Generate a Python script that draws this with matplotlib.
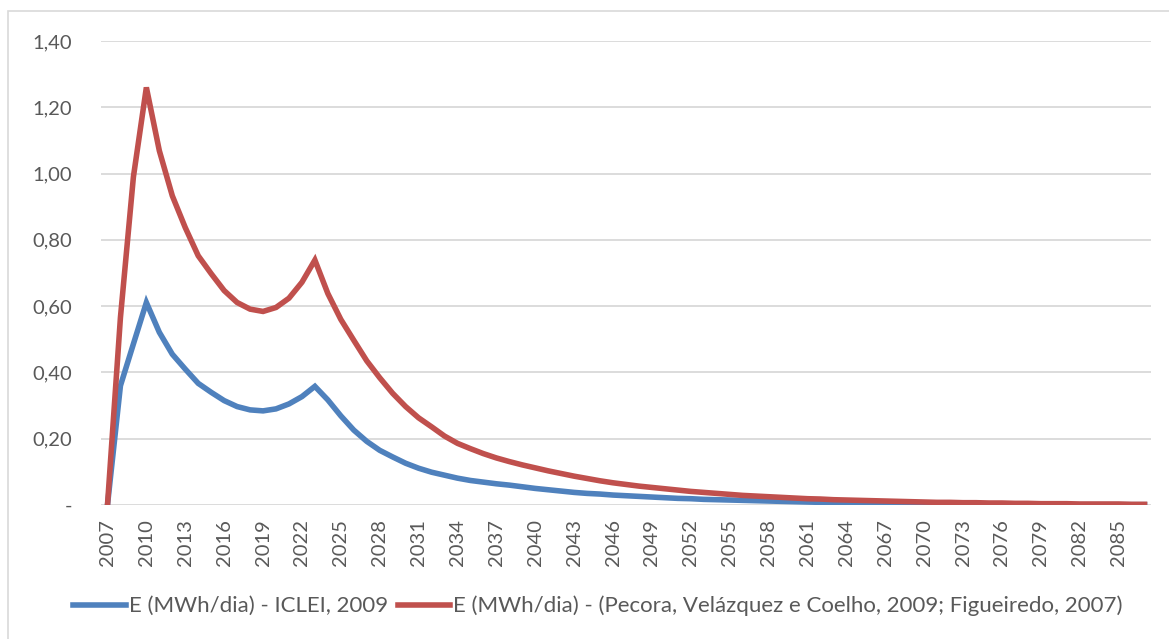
import matplotlib
matplotlib.use("Agg")
import matplotlib.pyplot as plt
from matplotlib.ticker import FuncFormatter
from matplotlib.patches import Rectangle

# anos 2007..2087
anos = list(range(2007, 2088))

# E (MWh/dia) - ICLEI, 2009
e_iclei = [
    0.000, 0.360, 0.486, 0.611, 0.521, 0.455, 0.410, 0.367, 0.340, 0.315,
    0.297, 0.287, 0.284, 0.290, 0.305, 0.327, 0.358, 0.317, 0.269, 0.226,
    0.192, 0.165, 0.145, 0.126, 0.111, 0.099, 0.090, 0.081, 0.074, 0.069,
    0.064, 0.060, 0.055, 0.050, 0.046, 0.042, 0.038, 0.035, 0.033, 0.030,
    0.028, 0.026, 0.024, 0.022, 0.020, 0.019, 0.017, 0.016, 0.015, 0.014,
    0.013, 0.012, 0.011, 0.010, 0.009, 0.008, 0.008, 0.007, 0.006, 0.006,
    0.005, 0.005, 0.004, 0.004, 0.004, 0.003, 0.003, 0.003, 0.003, 0.002,
    0.002, 0.002, 0.002, 0.002, 0.001, 0.001, 0.001, 0.001, 0.001, 0.001,
    0.001,
]

# E (MWh/dia) - (Pecora, Velázquez e Coelho, 2009; Figueiredo, 2007)
e_pecora = [
    0.000, 0.566, 0.990, 1.260, 1.069, 0.933, 0.837, 0.752, 0.698, 0.647,
    0.611, 0.591, 0.584, 0.596, 0.624, 0.672, 0.739, 0.638, 0.560, 0.497,
    0.435, 0.384, 0.337, 0.297, 0.263, 0.236, 0.208, 0.186, 0.170, 0.155,
    0.142, 0.131, 0.121, 0.112, 0.103, 0.095, 0.087, 0.080, 0.073, 0.067,
    0.062, 0.057, 0.053, 0.049, 0.045, 0.041, 0.038, 0.035, 0.032, 0.029,
    0.027, 0.025, 0.023, 0.021, 0.019, 0.018, 0.016, 0.015, 0.014, 0.013,
    0.012, 0.011, 0.010, 0.009, 0.008, 0.008, 0.007, 0.007, 0.006, 0.006,
    0.005, 0.005, 0.004, 0.004, 0.004, 0.003, 0.003, 0.003, 0.003, 0.002,
    0.002,
]

nomes = ["E (MWh/dia) - ICLEI, 2009",
         "E (MWh/dia) - (Pecora, Velázquez e Coelho, 2009; Figueiredo, 2007)"]
cores = ["#4F81BD", "#C0504D"]

plt.rcParams['font.family'] = ['Lato', 'DejaVu Sans']
cinza = "#595959"

W, H = 1169, 639
fig = plt.figure(figsize=(W / 100, H / 100), dpi=100)
ax = fig.add_axes([101 / W, 1 - 505 / H, 1050 / W, 464 / H])

x = list(range(len(anos)))
ax.plot(x, e_iclei, color=cores[0], lw=4.0, label=nomes[0], solid_joinstyle='miter')
ax.plot(x, e_pecora, color=cores[1], lw=4.0, label=nomes[1], solid_joinstyle='miter')

ax.set_xlim(-0.5, len(anos) - 0.5)
ax.set_ylim(0, 1.4)
ax.set_yticks([0, 0.2, 0.4, 0.6, 0.8, 1.0, 1.2, 1.4])
ax.yaxis.set_major_formatter(FuncFormatter(
    lambda v, p: "-" if abs(v) < 1e-9 else f"{v:.2f}".replace(".", ",")))
ax.set_xticks(x[::3])
ax.set_xticklabels([str(a) for a in anos[::3]], rotation=90)

ax.grid(axis='y', color="#D9D9D9", lw=1.3)
ax.set_axisbelow(True)
for s in ax.spines.values():
    s.set_visible(False)
ax.tick_params(axis='both', length=0, labelsize=14.5, colors=cinza)
ax.tick_params(axis='y', pad=21)
ax.tick_params(axis='x', pad=10)

# moldura do gráfico
fig.patches.append(Rectangle((8 / W, -0.1), 1.2, 1 - 11 / H + 0.1,
                             transform=fig.transFigure, fill=False,
                             edgecolor="#D9D9D9", lw=1.2))

fig.legend(loc='center', bbox_to_anchor=(598 / W, 1 - 606 / H), ncol=2,
           frameon=False, fontsize=16, handlelength=2.35, handletextpad=0.14,
           columnspacing=0.45, labelcolor=cinza)

fig.savefig("out.png", dpi=100)
